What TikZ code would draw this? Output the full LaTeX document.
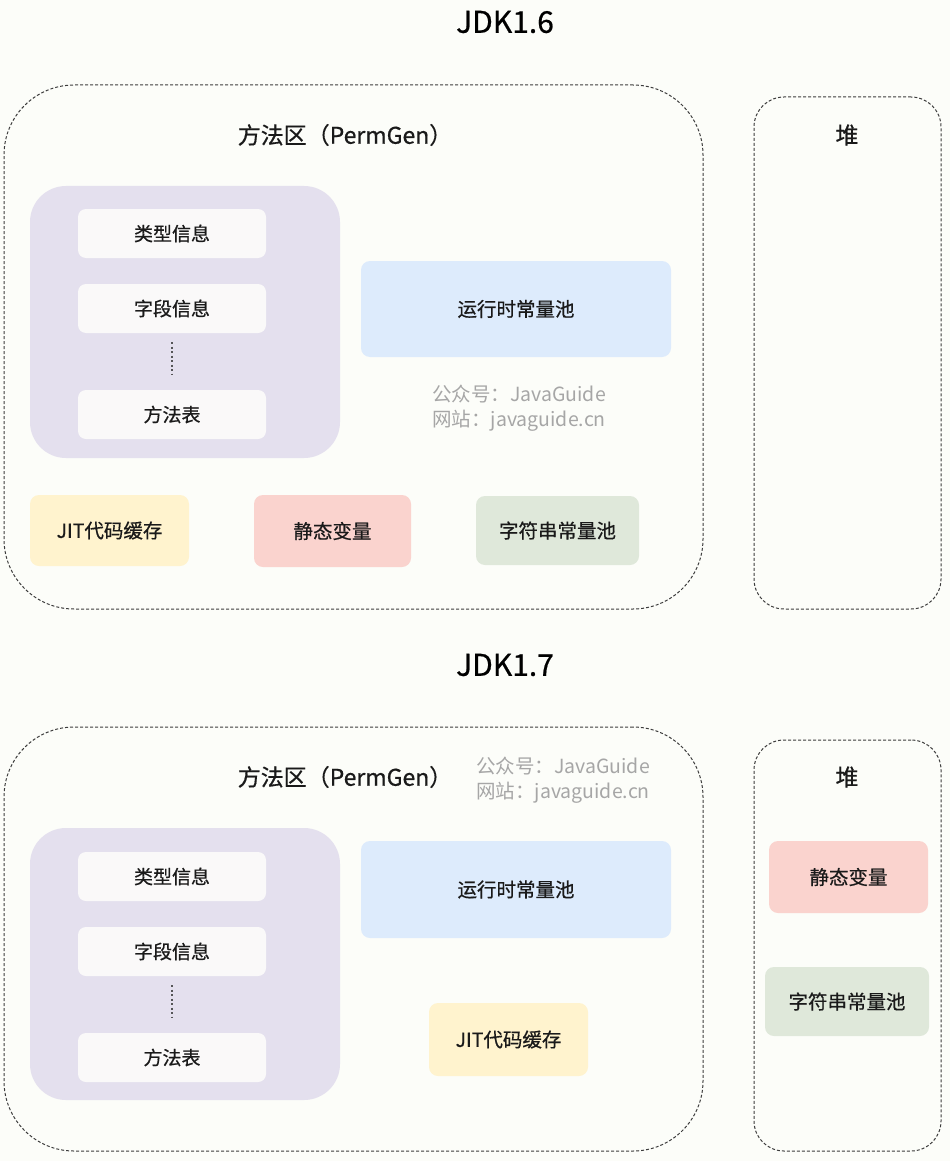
\documentclass[tikz,border=0pt]{standalone}
\usepackage{fontspec}
\setmainfont{Noto Sans CJK SC}
\newfontfamily\cjkmed{Noto Sans CJK SC}[FakeBold=0.6]
\usepackage{xcolor}
\usetikzlibrary{positioning,calc}

\definecolor{bgcol}{HTML}{FCFDF9}
\definecolor{dashgray}{HTML}{3C3C3C}
\definecolor{txtcol}{HTML}{1A1A1A}
\definecolor{markgray}{HTML}{A6A6A6}
\definecolor{lilac}{HTML}{E4E0EE}
\definecolor{slip}{HTML}{FAF9F9}
\definecolor{skyblue}{HTML}{DDEBFC}
\definecolor{cream}{HTML}{FFF3CE}
\definecolor{rose}{HTML}{FAD3CE}
\definecolor{sage}{HTML}{DFE8DA}

\begin{document}
\begin{tikzpicture}[x=1pt,y=-1pt,
  area/.style={draw=dashgray, dash pattern=on 3pt off 2pt, line width=1pt,
    inner sep=0pt},
  panel/.style={fill=lilac, rounded corners=36pt, inner sep=0pt,
    minimum width=310pt, minimum height=272pt},
  slot/.style={fill=slip, rounded corners=8pt, inner sep=0pt,
    minimum width=188pt, minimum height=49pt, text=txtcol,
    font=\cjkmed\fontsize{19}{23}\selectfont},
  cell/.style={rounded corners=9pt, inner sep=0pt, text=txtcol,
    font=\cjkmed\fontsize{19.5}{23}\selectfont},
  title/.style={text=black, font=\cjkmed\fontsize{30}{36}\selectfont},
  head/.style={text=txtcol, font=\cjkmed\fontsize{23}{28}\selectfont},
  watermark/.style={text=markgray, align=left, font=\fontsize{19.5}{25}\selectfont}]

\fill[bgcol] (0,0) rectangle (950,1161);
\useasboundingbox (0,0) rectangle (950,1161);

% JDK1.6
\node[title] (t16) at (505,22) {JDK1.6};

\node[area, rounded corners=70pt, minimum width=699pt, minimum height=524pt]
  (perm16) at (353.5,347) {};
\node[head] (permlbl16) at (345,135) {方法区（PermGen）};

\node[area, rounded corners=30pt, minimum width=187pt, minimum height=512pt]
  (heap16) at (847.5,353) {};
\node[head] (heaplbl16) at (847,135) {堆};

\node[panel] (class16) at (185,322) {};
\node[slot] (type16) at (172,233.5) {类型信息};
\node[slot] (field16) at (172,308.5) {字段信息};
\node[slot] (meth16) at (172,414.5) {方法表};
\draw[dashgray!85!lilac, line width=2pt, dash pattern=on 2pt off 2.5pt,
  shorten <=9pt, shorten >=16pt] (field16) -- (meth16);

\node[cell, fill=skyblue, minimum width=310pt, minimum height=96pt]
  (rcp16) at (516,309) {运行时常量池};
\node[watermark] (wm16) at (519,408) {公众号：JavaGuide\\网站：javaguide.cn};

\node[cell, fill=cream, minimum width=159pt, minimum height=71pt]
  (jit16) at (109.5,530.5) {JIT代码缓存};
\node[cell, fill=rose, minimum width=157pt, minimum height=72pt]
  (static16) at (332.5,531) {静态变量};
\node[cell, fill=sage, minimum width=163pt, minimum height=69pt]
  (str16) at (557.5,530.5) {字符串常量池};

% JDK1.7
\node[title] (t17) at (505,665) {JDK1.7};

\node[area, rounded corners=70pt, minimum width=699pt, minimum height=424pt]
  (perm17) at (353.5,939) {};
\node[head] (permlbl17) at (345,777) {方法区（PermGen）};
\node[watermark] (wm17) at (563,780) {公众号：JavaGuide\\网站：javaguide.cn};

\node[area, rounded corners=30pt, minimum width=187pt, minimum height=411pt]
  (heap17) at (847.5,945.5) {};
\node[head] (heaplbl17) at (847,777) {堆};

\node[panel] (class17) at (185,964) {};
\node[slot] (type17) at (172,876.5) {类型信息};
\node[slot] (field17) at (172,951.5) {字段信息};
\node[slot] (meth17) at (172,1057.5) {方法表};
\draw[dashgray!85!lilac, line width=2pt, dash pattern=on 2pt off 2.5pt,
  shorten <=9pt, shorten >=16pt] (field17) -- (meth17);

\node[cell, fill=skyblue, minimum width=310pt, minimum height=97pt]
  (rcp17) at (516,889.5) {运行时常量池};
\node[cell, fill=cream, minimum width=159pt, minimum height=73pt]
  (jit17) at (508.5,1039.5) {JIT代码缓存};

\node[cell, fill=rose, minimum width=159pt, minimum height=72pt]
  (static17) at (848.5,877) {静态变量};
\node[cell, fill=sage, minimum width=164pt, minimum height=69pt]
  (str17) at (847,1001.5) {字符串常量池};
\end{tikzpicture}
\end{document}
